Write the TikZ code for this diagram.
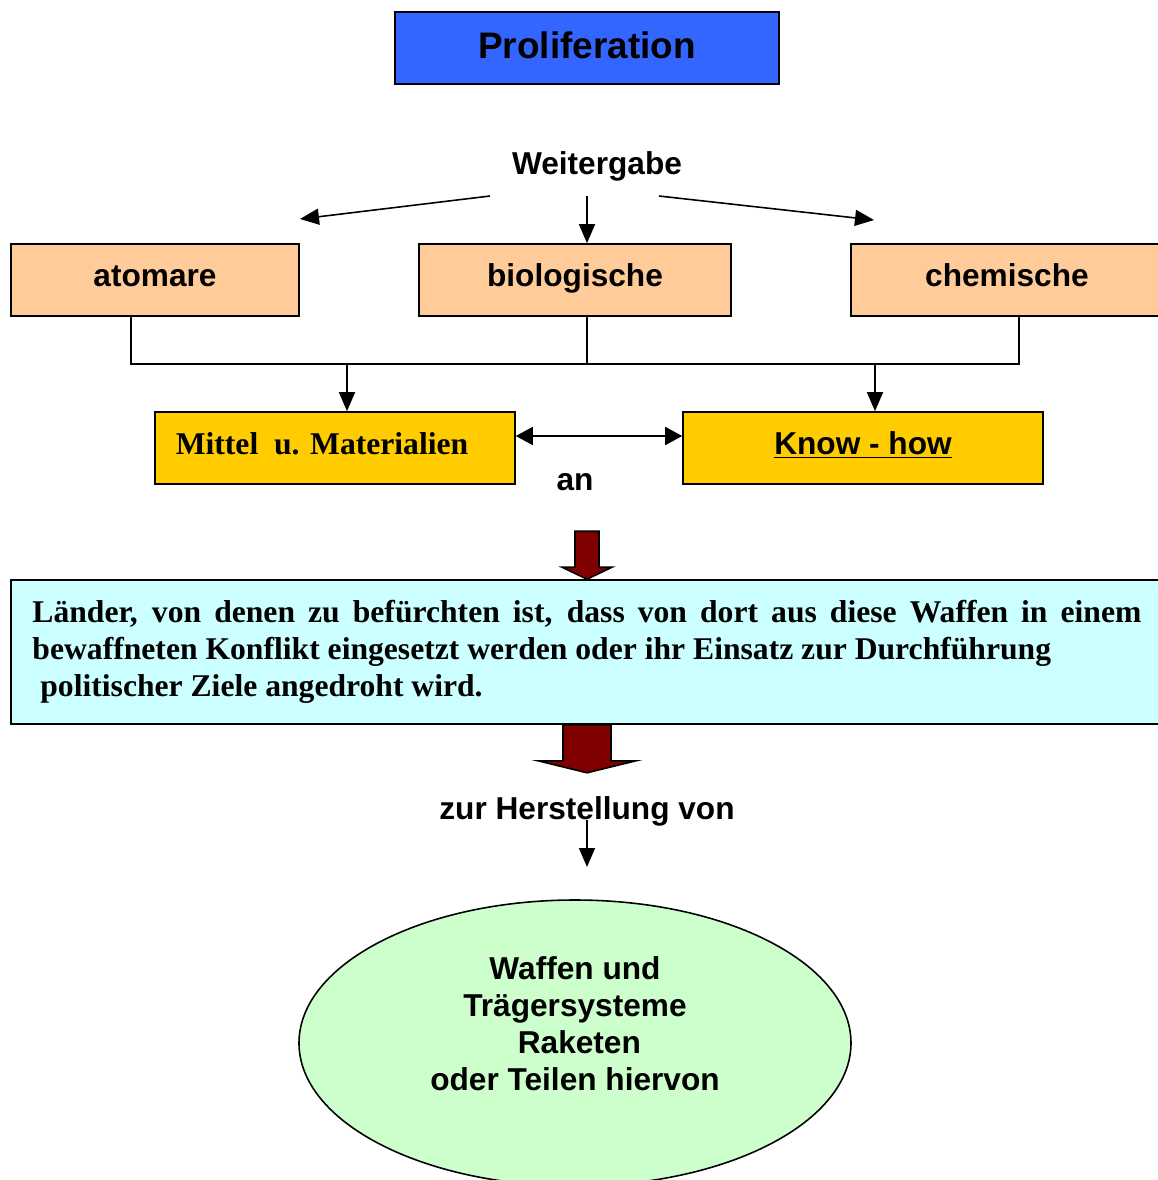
\documentclass[tikz,border=0pt]{standalone}
\usepackage{fontspec}
\setmainfont{Liberation Sans}
\newfontfamily\timesfont{Liberation Serif}
\usetikzlibrary{arrows.meta,shapes.geometric}

\definecolor{titleblue}{HTML}{3366FF}
\definecolor{peach}{HTML}{FFCC99}
\definecolor{gold}{HTML}{FFCC00}
\definecolor{skycyan}{HTML}{CCFFFF}
\definecolor{mint}{HTML}{CCFFCC}
\definecolor{darkred}{HTML}{800000}

\tikzset{
  box/.style={draw, line width=0.9pt, minimum height=14.4mm,
    font=\bfseries\fontsize{18}{21}\selectfont, text height=13pt, text depth=5.6pt},
  kind/.style={box, fill=peach},
  means/.style={box, fill=gold},
  lbl/.style={font=\bfseries\fontsize{18}{21}\selectfont},
  wire/.style={line width=0.9pt},
  arr/.style={wire, -{Triangle[length=3.8mm,width=3.2mm]}},
  dblarr/.style={wire, {Triangle[length=3.4mm,width=3.6mm]}-{Triangle[length=3.4mm,width=3.6mm]}},
  blockarrow/.style={fill=darkred, draw=black, line width=0.9pt, line join=miter}
}

\begin{document}
\begin{tikzpicture}[x=0.2mm, y=-0.2mm]
    \useasboundingbox (0,0) rectangle (1158,1180);

    % Title
    \node[box, fill=titleblue, minimum width=76.8mm, font=\bfseries\fontsize{21}{25}\selectfont,
      text height=15.5pt, text depth=4.1pt] (title) at (587,48) {Proliferation};

    % Weitergabe and the three kinds
    \node[lbl] (give) at (597,166) {Weitergabe};
    \node[kind, minimum width=57.6mm] (atom) at (155,280) {atomare};
    \node[kind, minimum width=62.4mm] (bio) at (575,280) {biologische};
    \node[kind, minimum width=62.4mm] (chem) at (1007,280) {chemische};

    \coordinate (giveL) at (490,196);
    \coordinate (giveM) at (587,196);
    \coordinate (giveR) at (659,196);
    \coordinate (toAtom) at (300,219);
    \coordinate (toChem) at (874,220);
    \draw[arr] (giveL) -- (toAtom);
    \draw[arr] (giveM) -- ([xshift=2.4mm]bio.north);
    \draw[arr] (giveR) -- (toChem);

    % Means and know-how
    \node[means, minimum width=72mm, font=\timesfont\bfseries\fontsize{18}{21}\selectfont] (mittel) at (335,448) {Mittel\ \ u. Materialien\hspace*{5.2mm}};
    \node[means, minimum width=72mm] (know) at (863,448) {\underline{Know - how}};
    \node[lbl] (an) at (575,482) {an};

    % Collecting line
    \coordinate (bus) at (587,364);
    \draw[wire] ([xshift=-4.8mm]atom.south) |- (bus) -| ([xshift=2.4mm]chem.south);
    \draw[wire] ([xshift=2.4mm]bio.south) -- (bus);
    \coordinate (mittelIn) at ([xshift=2.4mm]mittel.north);
    \coordinate (knowIn) at ([xshift=2.4mm]know.north);
    \draw[arr] (mittelIn |- bus) -- (mittelIn);
    \draw[arr] (knowIn |- bus) -- (knowIn);
    \draw[dblarr] ([yshift=2.4mm]mittel.east) -- ([yshift=2.4mm]know.west);

    % Countries
    \node[draw, line width=0.9pt, fill=skycyan, minimum width=230.4mm, minimum height=28.8mm,
      align=left, font=\timesfont\bfseries\fontsize{18}{21}\selectfont] (land) at (587,652)
      {\makebox[221.8mm][s]{Länder, von denen zu befürchten ist, dass von dort aus diese Waffen in einem}\\
       bewaffneten Konflikt eingesetzt werden oder ihr Einsatz zur Durchführung\\
       \ politischer Ziele angedroht wird.};

    % Block arrows
    \draw[blockarrow] (land.north) -- ++(-25,-12) -- ++(13,0) -- ++(0,-36) -- ++(24,0) -- ++(0,36) -- ++(13,0) -- cycle;
    \draw[blockarrow] ([xshift=-4.8mm]land.south) -- ++(0,36) -- ++(-25,0) -- ++(49,12) -- ++(49,-12) -- ++(-25,0) -- ++(0,-36) -- cycle;

    % Weapons
    \node[lbl] (make) at (587,811) {zur Herstellung von};
    \coordinate (makeTip) at (587,867);
    \draw[arr] ([yshift=-1.8mm]make.center) -- (makeTip);

    \node[draw, ellipse, line width=0.9pt, fill=mint, minimum width=110.4mm, minimum height=57.2mm] (goods) at (575,1043) {};
    \node[lbl, align=center] (goodsText) at (575,1024) {Waffen und\\Trägersysteme\\\ Raketen\\oder Teilen hiervon};
\end{tikzpicture}
\end{document}
